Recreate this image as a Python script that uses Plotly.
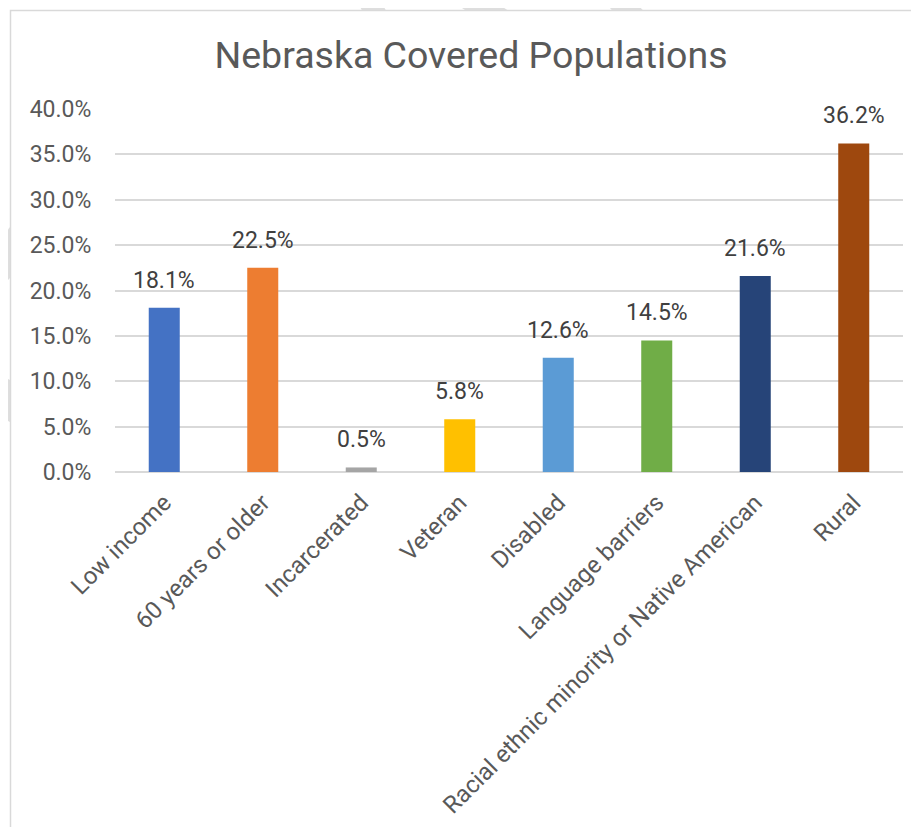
import plotly.graph_objects as go

categories = ["Low income", "60 years or older", "Incarcerated", "Veteran", "Disabled",
              "Language barriers", "Racial ethnic minority or Native American", "Rural"]
values = [18.1, 22.5, 0.5, 5.8, 12.6, 14.5, 21.6, 36.2]
colors = ["#4472C4", "#ED7D31", "#A5A5A5", "#FFC000", "#5B9BD5", "#70AD47", "#264478", "#9E480E"]
y_ticks = [0, 5, 10, 15, 20, 25, 30, 35, 40]
y_tick_labels = ["0.0%", "5.0%", "10.0%", "15.0%", "20.0%", "25.0%", "30.0%", "35.0%", "40.0%"]

# page body has an 8px margin; figure coordinates = page coordinates - 8
OFF = 8
W, H = 919 - OFF, 827 - OFF
L, R, T, B = 115 - OFF, 16, 109 - OFF, 355
PW, PH = W - L - R, H - T - B

def px(x):
    return (x - OFF - L) / PW

def py(y):
    return (H - B - (y - OFF)) / PH

def poly(points):
    d = "M " + " L ".join(f"{px(x)},{py(y)}" for x, y in points) + " Z"
    return dict(type="path", path=d, xref="paper", yref="paper",
                fillcolor="#DEDEDE", line=dict(width=0), layer="below")

fig = go.Figure(go.Bar(
    x=categories, y=values, marker=dict(color=colors, line=dict(width=0)),
    hovertemplate="%{x}: %{y:.1f}%<extra></extra>",
))

annotations = [
    dict(x=c, y=v, xref="x", yref="y", text=f"{v:.1f}%", showarrow=False,
         xanchor="center", yanchor="bottom", yshift=12,
         font=dict(family="Roboto", size=23, color="#404040"))
    for c, v in zip(categories, values)
]

shapes = [
    poly([(356.7, 0), (380, 0), (385.7, 10), (361.7, 10)]),
    poly([(450, 0), (491.7, 0), (507.3, 10), (465, 10)]),
    poly([(603.3, 0), (633.3, 0), (642.7, 10), (611.7, 10)]),
    poly([(0, 240), (10, 227), (10, 278), (0, 288)]),
    poly([(0, 375), (10, 380), (10, 422), (0, 417)]),
    dict(type="rect", xref="paper", yref="paper", x0=px(10.5), x1=px(945), y0=py(10.5), y1=py(840),
         line=dict(color="#D9D9D9", width=1.5), fillcolor="rgba(0,0,0,0)", layer="below"),
]

fig.update_layout(
    width=W, height=H,
    margin=dict(l=L, r=R, t=T, b=B, autoexpand=False),
    paper_bgcolor="white", plot_bgcolor="white",
    bargap=0.685,
    showlegend=False,
    shapes=shapes,
    annotations=annotations,
    title=dict(text="Nebraska Covered Populations", xref="container", x=(471 - OFF) / W,
               xanchor="center", y=1 - (55 - OFF) / H, yanchor="middle",
               font=dict(family="Roboto", size=37.5, color="#595959")),
    font=dict(family="Roboto", color="#595959"),
    xaxis=dict(tickangle=-45, tickfont=dict(family="Roboto", size=24, color="#595959"),
               showgrid=False, showline=False, ticks="outside", ticklen=6,
               tickcolor="rgba(0,0,0,0)", automargin=False),
    yaxis=dict(range=[0, 40], tickvals=y_ticks, ticktext=y_tick_labels,
               tickfont=dict(family="Roboto", size=23, color="#595959"),
               showgrid=True, gridcolor="#D9D9D9", gridwidth=1.8,
               zeroline=True, zerolinecolor="#D9D9D9", zerolinewidth=1.8,
               showline=False, ticks="outside", ticklen=18, tickcolor="rgba(0,0,0,0)",
               automargin=False),
)

fig.write_html("out.html")
